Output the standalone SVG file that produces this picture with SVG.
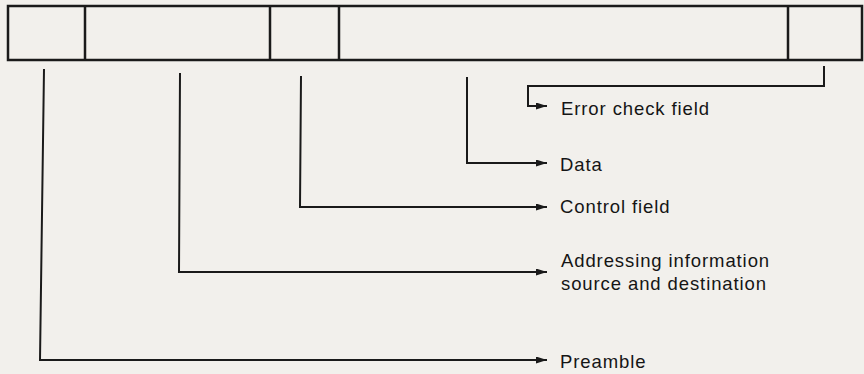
<svg xmlns="http://www.w3.org/2000/svg" width="864" height="374" viewBox="0 0 864 374">
  <style>
    .frame { fill: none; stroke: #1a1a1a; stroke-width: 2.5; }
    .conn { fill: none; stroke: #1a1a1a; stroke-width: 2; }
    .lbl { font-family: "Liberation Sans", Arial, Helvetica, sans-serif; font-size: 18.5px; letter-spacing: 0.9px; fill: #151515; }
  </style>
  <defs>
    <marker id="arrow" viewBox="0 0 11 7" refX="11" refY="3.5" markerWidth="11" markerHeight="7" markerUnits="userSpaceOnUse" orient="auto">
      <path d="M0,0 L11,3.5 L0,7 Z" fill="#1a1a1a"/>
    </marker>
  </defs>
  <rect x="0" y="0" width="864" height="374" fill="#f2f0ec"/>

  <g id="frame">
    <rect class="frame" x="8" y="6" width="854" height="54"/>
    <line class="frame" x1="85" y1="6" x2="85" y2="60"/>
    <line class="frame" x1="270" y1="6" x2="270" y2="60"/>
    <line class="frame" x1="339" y1="6" x2="339" y2="60"/>
    <line class="frame" x1="788" y1="6" x2="788" y2="60"/>
  </g>

  <g id="connectors">
    <polyline class="conn" points="824,66 824,86 528,86 528,106 547,106" marker-end="url(#arrow)"/>
    <polyline class="conn" points="467,77 467,163 547,163" marker-end="url(#arrow)"/>
    <polyline class="conn" points="301,76 300,207 547,207" marker-end="url(#arrow)"/>
    <polyline class="conn" points="180,73 179,272 547,272" marker-end="url(#arrow)"/>
    <polyline class="conn" points="44,69 40,360 547,360" marker-end="url(#arrow)"/>
  </g>

  <g id="label-error">
    <text class="lbl" x="561" y="115">Error check field</text>
  </g>
  <g id="label-data">
    <text class="lbl" x="560" y="171">Data</text>
  </g>
  <g id="label-control">
    <text class="lbl" x="560" y="213">Control field</text>
  </g>
  <g id="label-addressing">
    <text class="lbl" x="561" y="267">Addressing information</text>
    <text class="lbl" x="561" y="290">source and destination</text>
  </g>
  <g id="label-preamble">
    <text class="lbl" x="560" y="368">Preamble</text>
  </g>
</svg>
